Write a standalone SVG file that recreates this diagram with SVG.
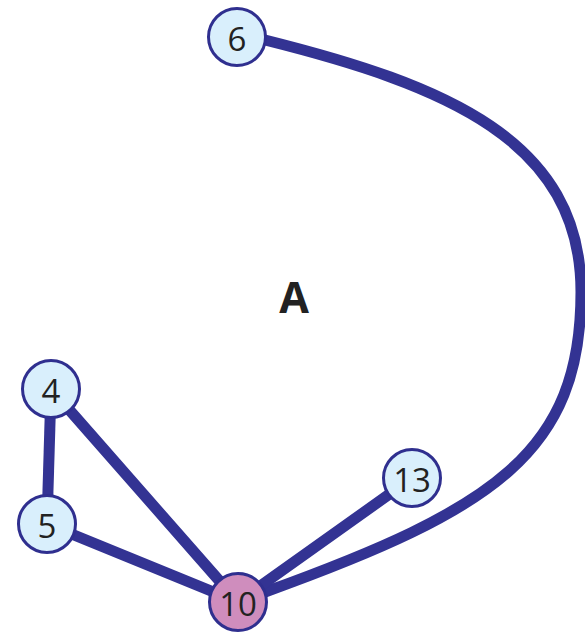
<svg xmlns="http://www.w3.org/2000/svg" width="585" height="635" viewBox="0 0 585 635">
<style>
.edge{fill:none;stroke:#333393;stroke-width:11;stroke-linecap:round}
.node{fill:#d9effc;stroke:#2f2f8f;stroke-width:3}
.hub{fill:#cf8dbd;stroke:#2f2f8f;stroke-width:3}
.lbl{font-family:"Open Sans","Liberation Sans",sans-serif;font-size:33px;fill:#222;text-anchor:middle;dominant-baseline:central}
.title{font-family:"Open Sans","Liberation Sans",sans-serif;font-size:43px;font-weight:bold;fill:#222;text-anchor:middle;dominant-baseline:central}
</style>
<rect width="585" height="635" fill="#fff"/>
<g id="connectors">
<path class="edge" d="M237,37 L265,40 C445,85 581,140 581,292 C581,452 495,509 265,592 L238,602"/>
<line class="edge" x1="51" y1="389" x2="47" y2="524"/>
<line class="edge" x1="51" y1="389" x2="238" y2="602"/>
<line class="edge" x1="47" y1="524" x2="238" y2="602"/>
<line class="edge" x1="412" y1="478" x2="238" y2="602"/>
</g>
<text class="title" x="294" y="296">A</text>
<g id="node6"><circle class="node" cx="237" cy="37" r="28.5"/><text class="lbl" x="237" y="38">6</text></g>
<g id="node4"><circle class="node" cx="51" cy="389" r="28.5"/><text class="lbl" x="51" y="390">4</text></g>
<g id="node5"><circle class="node" cx="47" cy="524" r="28.5"/><text class="lbl" x="47" y="525">5</text></g>
<g id="node13"><circle class="node" cx="412" cy="478" r="28.5"/><text class="lbl" x="412" y="479">13</text></g>
<g id="node10"><circle class="hub" cx="238" cy="602" r="28.5"/><text class="lbl" x="238" y="603">10</text></g>
</svg>
